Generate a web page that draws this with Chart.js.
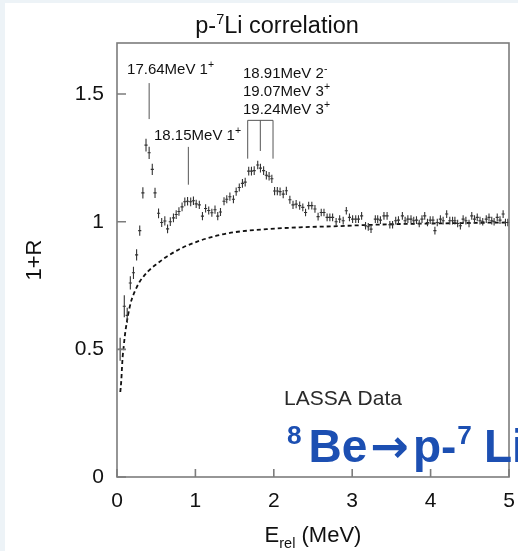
<!DOCTYPE html>
<html>
<head>
<meta charset="utf-8">
<script src="https://cdn.jsdelivr.net/npm/chart.js@4.4.0/dist/chart.umd.min.js"></script>
<style>
  html, body { margin: 0; padding: 0; background: #fff; }
</style>
</head>
<body>
<canvas id="corrChart" width="518" height="551"></canvas>
<script>
// p-7Li correlation, LASSA data points (bin centre in MeV, 1+R, stat. error)
const eRel = [
  0.04, 0.093, 0.13, 0.17, 0.21, 0.25, 0.29, 0.33, 0.37, 0.41,
  0.45, 0.485, 0.53, 0.57, 0.61, 0.645, 0.68, 0.72, 0.755, 0.79,
  0.83, 0.865, 0.90, 0.94, 0.975, 1.01, 1.05, 1.09, 1.13, 1.17,
  1.21, 1.25, 1.285, 1.32, 1.365, 1.40, 1.44, 1.485, 1.52, 1.56,
  1.60, 1.635, 1.68, 1.715, 1.75, 1.795, 1.83, 1.87, 1.905, 1.94,
  1.975, 2.01, 2.045, 2.08, 2.12, 2.16, 2.205, 2.245, 2.285, 2.33,
  2.37, 2.405, 2.445, 2.485, 2.525, 2.565, 2.605, 2.64, 2.68, 2.715,
  2.75, 2.795, 2.84, 2.885, 2.925, 2.965, 3.005, 3.045, 3.08, 3.12,
  3.17, 3.205, 3.24, 3.295, 3.325, 3.36, 3.405, 3.445, 3.48, 3.515,
  3.555, 3.59, 3.64, 3.675, 3.71, 3.75, 3.785, 3.82, 3.855, 3.89,
  3.925, 3.96, 3.995, 4.03, 4.055, 4.085, 4.125, 4.16, 4.205, 4.245,
  4.28, 4.31, 4.345, 4.38, 4.415, 4.45, 4.49, 4.525, 4.56, 4.595,
  4.63, 4.665, 4.71, 4.745, 4.78, 4.81, 4.85, 4.885, 4.925, 4.955,
  4.985
];
const oneR = [
  0.50, 0.669, 0.633, 0.76, 0.80, 0.87, 0.965, 1.113, 1.30, 1.27,
  1.205, 1.113, 1.033, 0.997, 1.003, 0.972, 1.0, 1.015, 1.028, 1.04,
  1.058, 1.078, 1.08, 1.078, 1.082, 1.07, 1.066, 1.022, 1.052, 1.044,
  1.035, 1.047, 1.022, 1.038, 1.08, 1.088, 1.098, 1.088, 1.118, 1.134,
  1.15, 1.155, 1.198, 1.198, 1.2, 1.222, 1.21, 1.2, 1.182, 1.178,
  1.168, 1.12, 1.12, 1.118, 1.108, 1.121, 1.086, 1.066, 1.069, 1.063,
  1.056, 1.036, 1.063, 1.063, 1.05, 1.02, 1.036, 1.036, 1.017, 1.017,
  1.017, 1.0, 1.01, 1.004, 1.043, 1.017, 1.01, 1.01, 1.01, 1.023,
  0.984, 0.98, 0.971, 1.01, 1.01, 1.006, 1.023, 1.023, 0.988, 0.988,
  1.004, 1.006, 1.023, 1.004, 1.01, 1.01, 1.004, 1.006, 0.993, 1.01,
  1.023, 0.997, 1.006, 1.006, 0.965, 0.997, 1.01, 1.004, 1.03, 1.004,
  1.004, 1.004, 0.993, 0.984, 1.01, 1.004, 0.993, 1.023, 1.01, 1.017,
  1.004, 1.0, 1.01, 1.017, 1.004, 1.0, 1.017, 1.006, 1.03, 0.997,
  0.997
];
const errR = [
  0.045, 0.043, 0.03, 0.026, 0.024, 0.022, 0.02, 0.022, 0.025, 0.024,
  0.022, 0.02, 0.019, 0.018, 0.018, 0.017, 0.017, 0.017, 0.017, 0.017,
  0.017, 0.017, 0.017, 0.017, 0.017, 0.016, 0.016, 0.016, 0.016, 0.016,
  0.016, 0.016, 0.016, 0.016, 0.016, 0.016, 0.016, 0.016, 0.016, 0.016,
  0.017, 0.017, 0.017, 0.017, 0.017, 0.017, 0.017, 0.017, 0.017, 0.017,
  0.016, 0.016, 0.016, 0.016, 0.016, 0.016, 0.016, 0.016, 0.016, 0.016,
  0.015, 0.015, 0.015, 0.015, 0.015, 0.015, 0.015, 0.015, 0.015, 0.015,
  0.015, 0.015, 0.015, 0.015, 0.015, 0.015, 0.015, 0.015, 0.015, 0.015,
  0.015, 0.015, 0.015, 0.015, 0.015, 0.015, 0.015, 0.015, 0.015, 0.015,
  0.015, 0.015, 0.015, 0.015, 0.015, 0.015, 0.015, 0.015, 0.015, 0.015,
  0.015, 0.015, 0.015, 0.015, 0.015, 0.015, 0.015, 0.015, 0.015, 0.015,
  0.015, 0.015, 0.015, 0.015, 0.015, 0.015, 0.015, 0.015, 0.015, 0.015,
  0.015, 0.015, 0.015, 0.015, 0.015, 0.015, 0.015, 0.015, 0.015, 0.015,
  0.015
];
const binHalf = 0.02;

// dashed background curve
const curveE = [0.042, 0.055, 0.064, 0.072, 0.085, 0.098, 0.115, 0.136, 0.157, 0.183,
  0.217, 0.251, 0.293, 0.34, 0.395, 0.455, 0.519, 0.583, 0.638, 0.846,
  1.06, 1.27, 1.48, 1.91, 2.33, 2.76, 3.18, 3.61, 4.03, 4.46, 5.0];
const curveR = [0.333, 0.379, 0.431, 0.47, 0.509, 0.548, 0.587, 0.626, 0.659, 0.691,
  0.72, 0.743, 0.767, 0.786, 0.805, 0.822, 0.837, 0.852, 0.864, 0.90,
  0.926, 0.945, 0.958, 0.971, 0.978, 0.982, 0.987, 0.991, 0.993, 0.995, 0.997];

const xTicks = [0, 1, 2, 3, 4, 5];
const yTicks = [0, 0.5, 1, 1.5];

// 8Be levels: marker lines and their labels
const levelLabels = [
  { parts: [['17.64MeV 1'], ['+', 'sup']], x: 0.128, y: 1.578 },
  { parts: [['18.15MeV 1'], ['+', 'sup']], x: 0.472, y: 1.322 },
  { parts: [['18.91MeV 2'], ['-', 'sup']], x: 1.607, y: 1.563 },
  { parts: [['19.07MeV 3'], ['+', 'sup']], x: 1.607, y: 1.492 },
  { parts: [['19.24MeV 3'], ['+', 'sup']], x: 1.607, y: 1.422 }
];
const levelLines = [
  { x: 0.41, from: 1.402, to: 1.543 },
  { x: 0.91, from: 1.145, to: 1.293 },
  { x: 1.667, from: 1.247, to: 1.397 },
  { x: 1.828, from: 1.277, to: 1.397 },
  { x: 1.99, from: 1.247, to: 1.397 }
];

const FONT = '"Liberation Sans", Arial, Helvetica, sans-serif';
const ARROW_FONT = '"DejaVu Sans", sans-serif';

// draws text with superscript / subscript pieces
// part = [text, kind ('sup' | 'sub' | null), fontFamily, extra gap after]
function richText(ctx, parts, x, y, size, opts = {}) {
  const weight = opts.weight || 'normal';
  const setFont = (kind, fam) => {
    const s = (kind === 'sup' || kind === 'sub') ? size * (opts.supScale || 0.62) : size;
    ctx.font = `${weight} ${s}px ${fam || FONT}`;
  };
  const gapFor = (kind, extra) => (extra || 0) + ((kind === 'sup' || kind === 'sub') && opts.gap ? opts.gap : 0);
  let cx = x;
  if (opts.align === 'center') {
    const w = parts.reduce((acc, [t, kind, fam, extra]) => {
      setFont(kind, fam);
      return acc + ctx.measureText(t).width + gapFor(kind, extra);
    }, 0);
    cx = x - w / 2;
  }
  ctx.textAlign = 'left';
  ctx.textBaseline = 'alphabetic';
  parts.forEach(([t, kind, fam, extra]) => {
    setFont(kind, fam);
    let dy = 0;
    if (kind === 'sup') dy = -size * 0.4;
    if (kind === 'sub') dy = size * 0.28;
    ctx.fillText(t, cx, y + dy);
    cx += ctx.measureText(t).width + gapFor(kind, extra);
  });
}

const pagePlugin = {
  id: 'page',
  beforeDraw(chart) {
    const { ctx, width, height } = chart;
    ctx.save();
    ctx.fillStyle = '#edf3f7';
    ctx.fillRect(0, 0, width, height);
    ctx.fillStyle = '#ffffff';
    ctx.fillRect(5, 3, width - 5, height - 3);
    ctx.restore();
  },
  afterDraw(chart) {
    const { ctx, chartArea: a, scales: { x, y } } = chart;
    ctx.save();
    // frame
    ctx.strokeStyle = '#7c7c7c';
    ctx.lineWidth = 1.6;
    ctx.strokeRect(a.left, a.top, a.right - a.left, a.bottom - a.top);
    // inward tick marks
    ctx.beginPath();
    xTicks.forEach(v => {
      const px = x.getPixelForValue(v);
      ctx.moveTo(px, a.bottom);
      ctx.lineTo(px, a.bottom - 8);
    });
    yTicks.forEach(v => {
      const py = y.getPixelForValue(v);
      ctx.moveTo(a.left, py);
      ctx.lineTo(a.left + 9, py);
    });
    ctx.stroke();

    // title and x axis title
    ctx.fillStyle = '#111';
    richText(ctx, [['p-'], ['7', 'sup'], ['Li correlation']], 277, 33, 23.5, { align: 'center' });
    richText(ctx, [['E'], ['rel', 'sub'], [' (MeV)']], 313, 542, 22, { align: 'center', supScale: 0.66 });

    // level markers
    ctx.strokeStyle = '#555';
    ctx.lineWidth = 1;
    ctx.beginPath();
    levelLines.forEach(l => {
      const px = x.getPixelForValue(l.x);
      ctx.moveTo(px, y.getPixelForValue(l.from));
      ctx.lineTo(px, y.getPixelForValue(l.to));
    });
    const first = levelLines[2], last = levelLines[4];
    ctx.moveTo(x.getPixelForValue(first.x), y.getPixelForValue(first.to));
    ctx.lineTo(x.getPixelForValue(last.x), y.getPixelForValue(last.to));
    ctx.stroke();
    ctx.fillStyle = '#111';
    levelLabels.forEach(l => {
      richText(ctx, l.parts, x.getPixelForValue(l.x), y.getPixelForValue(l.y), 15, { supScale: 0.7, gap: 1 });
    });

    // captions
    ctx.fillStyle = '#2a2a2a';
    ctx.font = `21px ${FONT}`;
    ctx.textAlign = 'left';
    ctx.fillText('LASSA Data', 284, 405);
    ctx.fillStyle = '#1c4fb2';
    richText(ctx, [
      ['8', 'sup', null, 7], ['Be', null, null, 3], ['\u2192', null, ARROW_FONT, 4],
      ['p-', null, null, 1], ['7', 'sup', null, 12], ['Li']
    ], 287, 462, 46, { weight: 'bold', supScale: 0.57 });
    ctx.restore();
  }
};

const errorBars = {
  id: 'errorBars',
  afterDatasetsDraw(chart) {
    const { ctx, scales: { x, y } } = chart;
    ctx.save();
    ctx.strokeStyle = '#333';
    ctx.lineWidth = 1.1;
    ctx.beginPath();
    eRel.forEach((e, i) => {
      const px = x.getPixelForValue(e);
      const py = y.getPixelForValue(oneR[i]);
      const hw = x.getPixelForValue(e + binHalf) - px;
      ctx.moveTo(px, y.getPixelForValue(oneR[i] + errR[i]));
      ctx.lineTo(px, y.getPixelForValue(oneR[i] - errR[i]));
      ctx.moveTo(px - hw, py);
      ctx.lineTo(px + hw, py);
    });
    ctx.stroke();
    ctx.restore();
  }
};

const corrCtx = document.getElementById('corrChart').getContext('2d');
const corrChart = new Chart(corrCtx, {
  type: 'scatter',
  data: {
    datasets: [{
      label: 'LASSA Data',
      data: eRel.map((e, i) => ({ x: e, y: oneR[i] })),
      pointRadius: 0,
      showLine: false
    }, {
      type: 'line',
      label: 'background',
      data: curveE.map((e, i) => ({ x: e, y: curveR[i] })),
      borderColor: '#111',
      borderWidth: 1.8,
      borderDash: [4, 3],
      pointRadius: 0,
      fill: false,
      cubicInterpolationMode: 'monotone'
    }]
  },
  options: {
    responsive: false,
    animation: false,
    layout: { padding: { top: 43, right: 9, left: 0, bottom: 0 } },
    plugins: {
      legend: { display: false },
      tooltip: { enabled: false },
      title: { display: false }
    },
    scales: {
      x: {
        type: 'linear',
        min: 0,
        max: 5,
        grid: { display: false, drawTicks: false },
        border: { display: false },
        afterBuildTicks: s => { s.ticks = xTicks.map(v => ({ value: v })); },
        afterFit: s => {
          s.height = 74;
          s.paddingLeft = 0;
          s.paddingRight = 0;
        },
        ticks: {
          padding: 12,
          color: '#111',
          maxRotation: 0,
          font: { family: FONT, size: 21 },
          callback: v => String(v)
        }
      },
      y: {
        min: 0,
        max: 1.7,
        grid: { display: false, drawTicks: false },
        border: { display: false },
        afterBuildTicks: s => { s.ticks = yTicks.map(v => ({ value: v })); },
        afterFit: s => {
          s.width = 117;
          s.paddingTop = 0;
          s.paddingBottom = 0;
        },
        ticks: {
          padding: 13,
          color: '#111',
          font: { family: FONT, size: 21 },
          callback: v => String(v)
        },
        title: {
          display: true,
          text: '1+R',
          color: '#111',
          font: { family: FONT, size: 22 },
          padding: { top: 22, bottom: 0 }
        }
      }
    }
  },
  plugins: [pagePlugin, errorBars]
});
</script>
</body>
</html>
